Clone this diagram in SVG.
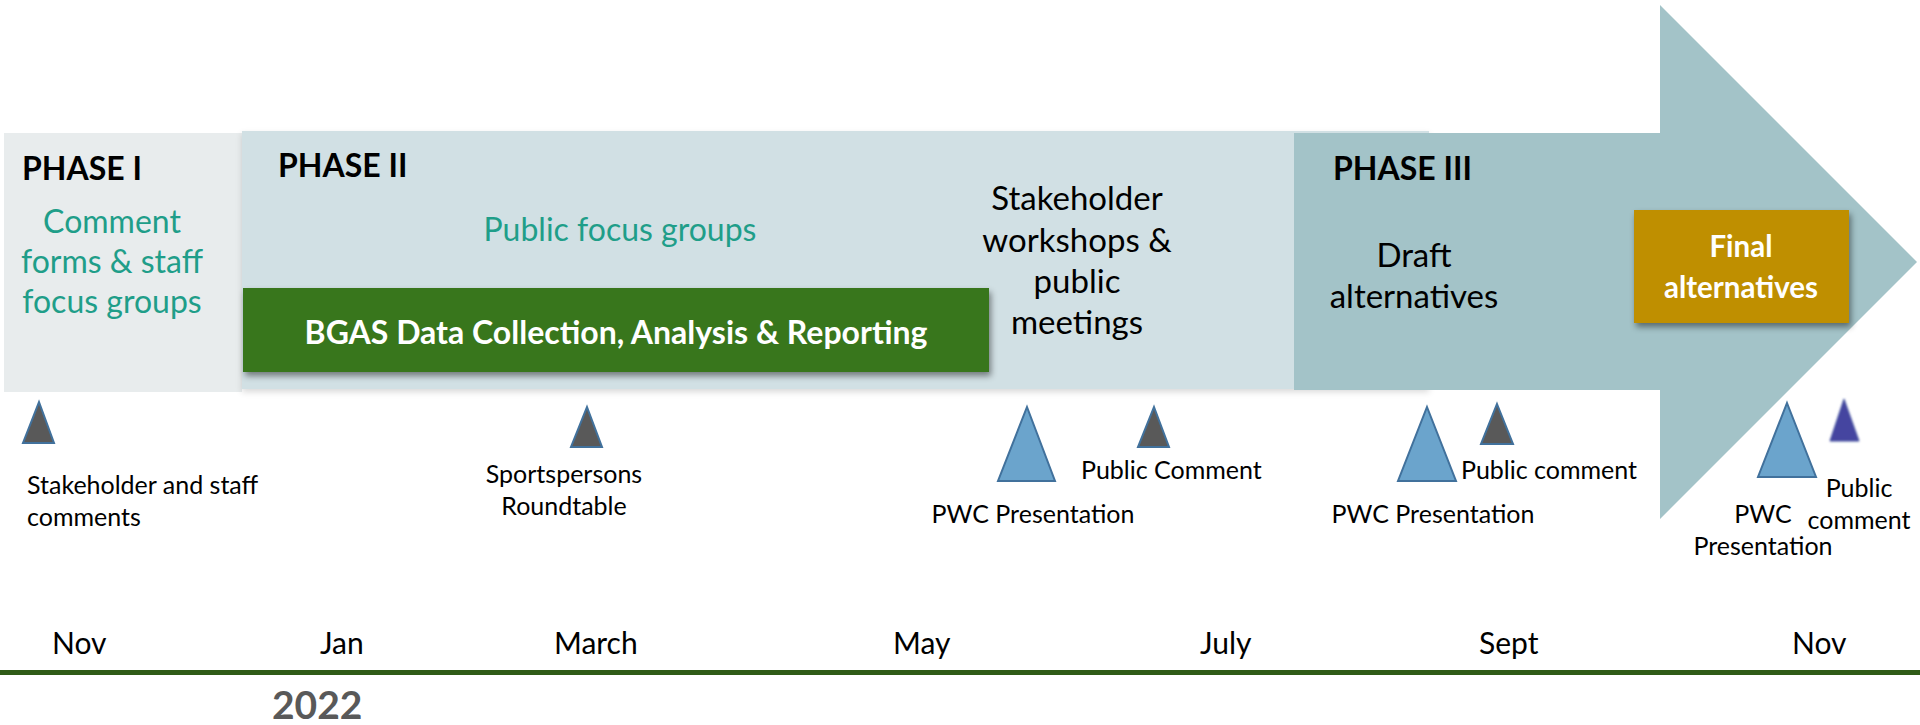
<svg xmlns="http://www.w3.org/2000/svg" width="1920" height="725" viewBox="0 0 1920 725">
  <defs>
    <filter id="shadow" x="-10%" y="-20%" width="120%" height="150%">
      <feDropShadow dx="2" dy="4" stdDeviation="3" flood-color="#000" flood-opacity="0.45"/>
    </filter>
    <filter id="softshadow" x="-5%" y="-10%" width="110%" height="130%">
      <feDropShadow dx="0" dy="3" stdDeviation="3" flood-color="#000" flood-opacity="0.15"/>
    </filter>
    <filter id="blur" x="-30%" y="-30%" width="160%" height="160%">
      <feGaussianBlur stdDeviation="1.2"/>
    </filter>
  </defs>
  <style>
    text { font-family: Lato, "Open Sans", sans-serif; }
    .phase { font-weight: bold; font-size: 32px; fill: #000; }
    .teal { font-size: 32px; fill: #1F9E89; text-anchor: middle; }
    .dark { font-size: 33px; fill: #000; text-anchor: middle; }
    .white { font-weight: bold; fill: #fff; text-anchor: middle; }
    .small { font-size: 25px; fill: #000; }
    .month { font-size: 30px; fill: #000; }
    .tri-gray { fill: #595959; stroke: #41719C; stroke-width: 2; }
    .tri-blue { fill: #6BA4CC; stroke: #41719C; stroke-width: 2; }
  </style>

  <rect width="1920" height="725" fill="#fff"/>

  <!-- Phase I -->
  <g id="phase1">
    <rect x="4" y="133" width="238" height="259" fill="#E8ECED"/>
    <text class="phase" x="22" y="180">PHASE I</text>
    <text class="teal" x="112" y="233">Comment</text>
    <text class="teal" x="112" y="273">forms &amp; staff</text>
    <text class="teal" x="112" y="313">focus groups</text>
  </g>

  <!-- Phase II -->
  <g id="phase2">
    <rect x="242" y="131" width="1187" height="258" fill="#D1E0E4" filter="url(#softshadow)"/>
    <text class="phase" x="278" y="177">PHASE II</text>
    <text class="teal" x="620" y="241">Public focus groups</text>
  </g>

  <!-- Phase III arrow -->
  <g id="phase3">
    <path d="M1294 133 H1660 V5 L1917 262 L1660 519 V390 H1294 Z" fill="#A3C3C8"/>
    <text class="phase" x="1333" y="180">PHASE III</text>
    <text class="dark" x="1414" y="267" font-size="32">Draft</text>
    <text class="dark" x="1414" y="308" font-size="32">alternatives</text>
  </g>

  <!-- BGAS box -->
  <g id="bgas">
    <rect x="243" y="288" width="746" height="84" fill="#38761D" filter="url(#shadow)"/>
    <text class="white" x="616" y="344" font-size="32">BGAS Data Collection, Analysis &amp; Reporting</text>
  </g>

  <!-- Stakeholder workshops -->
  <g id="workshops">
    <text class="dark" x="1077" y="210">Stakeholder</text>
    <text class="dark" x="1077" y="252">workshops &amp;</text>
    <text class="dark" x="1077" y="293">public</text>
    <text class="dark" x="1077" y="334">meetings</text>
  </g>

  <!-- Final alternatives -->
  <g id="final">
    <rect x="1634" y="210" width="215" height="113" fill="#BF8F00" filter="url(#shadow)"/>
    <text class="white" x="1741" y="257" font-size="29.5">Final</text>
    <text class="white" x="1741" y="298" font-size="29.5">alternatives</text>
  </g>

  <!-- Milestones -->
  <g id="m-stakeholder">
    <polygon class="tri-gray" points="39,402 54,443 23,443"/>
    <text class="small" x="27" y="494" font-size="28.5">Stakeholder and staff</text>
    <text class="small" x="27" y="526" font-size="28.5">comments</text>
  </g>
  <g id="m-sports">
    <polygon class="tri-gray" points="587,407 602,447 571,447"/>
    <text class="small" x="564" y="483" text-anchor="middle">Sportspersons</text>
    <text class="small" x="564" y="515" text-anchor="middle">Roundtable</text>
  </g>
  <g id="m-pwc1">
    <polygon class="tri-blue" points="1027,407 1055,481 998,481"/>
    <text class="small" x="1033" y="523" text-anchor="middle">PWC Presentation</text>
  </g>
  <g id="m-pc1">
    <polygon class="tri-gray" points="1154,407 1169,447 1138,447"/>
    <text class="small" x="1081" y="479">Public Comment</text>
  </g>
  <g id="m-pwc2">
    <polygon class="tri-blue" points="1427,407 1456,481 1398,481"/>
    <text class="small" x="1433" y="523" text-anchor="middle">PWC Presentation</text>
  </g>
  <g id="m-pc2">
    <polygon class="tri-gray" points="1497,404 1513,444 1481,444"/>
    <text class="small" x="1461" y="479">Public comment</text>
  </g>
  <g id="m-pwc3">
    <polygon class="tri-blue" points="1787,403 1816,477 1758,477"/>
    <text class="small" x="1763" y="523" text-anchor="middle">PWC</text>
    <text class="small" x="1763" y="555" text-anchor="middle">Presentation</text>
  </g>
  <g id="m-pc3">
    <polygon points="1844,399 1859,441 1830,441" fill="#4545A0" stroke="#3B4A9A" stroke-width="1" filter="url(#blur)"/>
    <text class="small" x="1859" y="497" text-anchor="middle" font-size="24">Public</text>
    <text class="small" x="1859" y="529" text-anchor="middle" font-size="24">comment</text>
  </g>

  <!-- Timeline -->
  <g id="timeline">
    <line x1="0" y1="672.5" x2="1920" y2="672.5" stroke="#2F5B17" stroke-width="5"/>
    <text class="month" x="52" y="654">Nov</text>
    <text class="month" x="320" y="654">Jan</text>
    <text class="month" x="554" y="654">March</text>
    <text class="month" x="893" y="654">May</text>
    <text class="month" x="1200" y="654">July</text>
    <text class="month" x="1479" y="654">Sept</text>
    <text class="month" x="1792" y="654">Nov</text>
    <text x="272" y="719" font-family="'Liberation Sans', Arial, sans-serif" font-weight="bold" font-size="39" fill="#595959">2022</text>
  </g>
  <g id="connectors"/>
</svg>
